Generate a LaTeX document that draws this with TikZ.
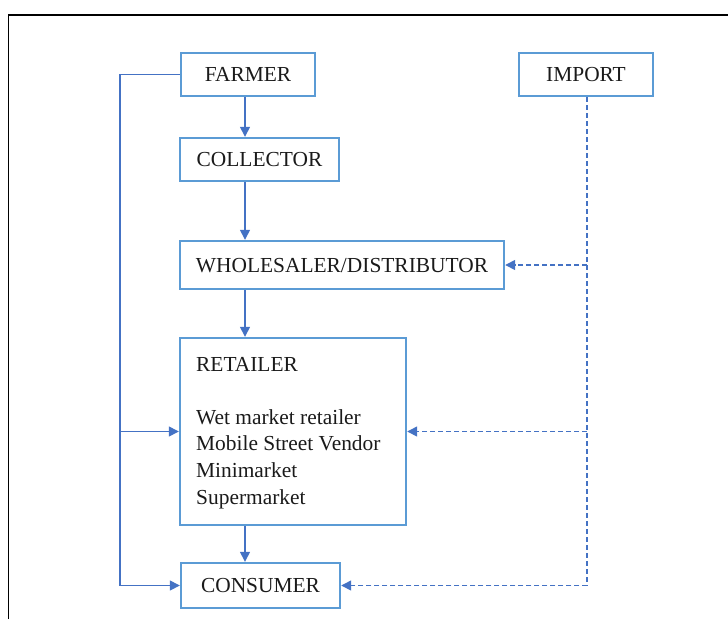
\documentclass[tikz,border=0pt]{standalone}
\usepackage{fontspec}
\setmainfont{Liberation Serif}
\usetikzlibrary{arrows.meta}
\definecolor{boxblue}{HTML}{5B9BD5}
\definecolor{linkblue}{HTML}{4472C4}
\definecolor{txt}{HTML}{1A1A1A}
\tikzset{
  box/.style={draw=boxblue, line width=2.4pt, inner sep=0pt, text=txt,
    font=\fontsize{21.4}{26.6}\selectfont, text height=14.2pt, text depth=0pt},
  link/.style={draw=linkblue, line width=1.4pt},
  arr/.style={link, -{Triangle[length=10pt,width=10pt]}},
  dlink/.style={link, dash pattern=on 5pt off 3pt},
  darr/.style={dlink, -{Triangle[length=10pt,width=10pt]}},
}
\begin{document}
\begin{tikzpicture}[x=1pt,y=-1pt]
\useasboundingbox (0,0) rectangle (728,619);
% frame
\draw[black, line width=1.5pt] (8.5,619) -- (8.5,15) -- (728,15);
% nodes
\node[box, minimum width=134pt, minimum height=43pt] (farmer) at (248,74.5) {FARMER};
\node[box, minimum width=134pt, minimum height=43pt] (import) at (586,74.5) {IMPORT};
\node[box, minimum width=159pt, minimum height=43pt] (collector) at (259.5,159.5) {COLLECTOR};
\node[box, minimum width=324pt, minimum height=48pt] (whole) at (342,265) {WHOLESALER/DISTRIBUTOR};
\node[box, minimum width=226pt, minimum height=187pt] (ret) at (293,431.5) {};
\node[text=txt, font=\fontsize{21.4}{26.6}\selectfont, align=left, inner sep=0pt, anchor=base west] (rettxt) at (196,504)
  {RETAILER\\[26.6pt]Wet market retailer\\Mobile Street Vendor\\Minimarket\\Supermarket};
\node[box, minimum width=159pt, minimum height=45pt] (consumer) at (260.5,585.5) {CONSUMER};
% helper coordinates
\coordinate (vx) at (245,0);
\coordinate (lx) at (120,0);
\coordinate (dx) at (587,0);
% main chain
\draw[arr] (farmer.south -| vx) -- (collector.north -| vx);
\draw[arr] (collector.south -| vx) -- (whole.north -| vx);
\draw[arr] (whole.south -| vx) -- (ret.north -| vx);
\draw[arr] (ret.south -| vx) -- (consumer.north -| vx);
% left bypass
\draw[arr] (farmer.west) -| (lx |- consumer.west) -- (consumer.west);
\draw[arr] (lx |- ret.west) -- (ret.west);
% import dashed
\draw[darr] (import.south -| dx) -- (dx |- consumer.east) -- (consumer.east);
\draw[darr] (dx |- whole.east) -- (whole.east);
\draw[darr] (dx |- ret.east) -- (ret.east);
\end{tikzpicture}
\end{document}
